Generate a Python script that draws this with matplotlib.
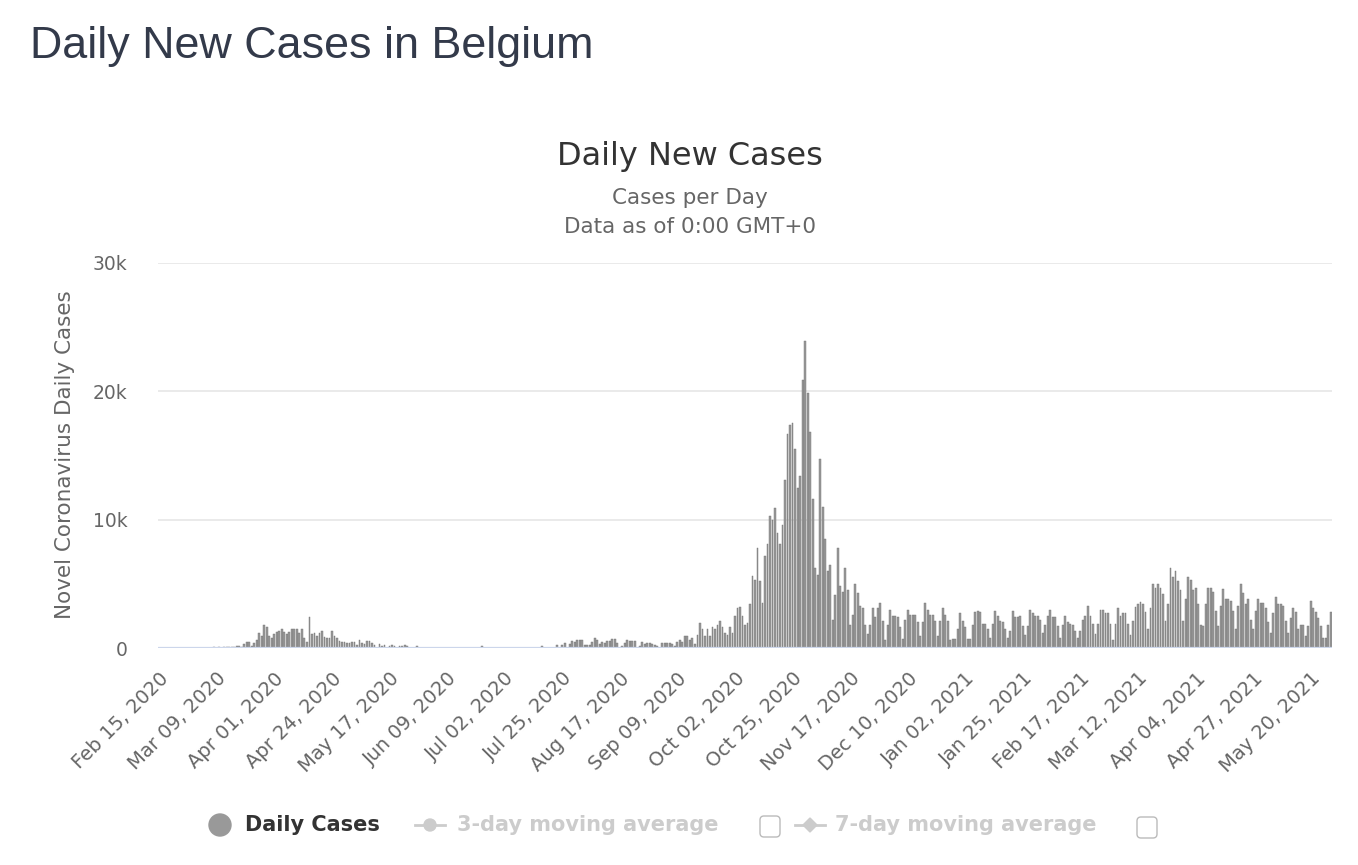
import numpy as np
import pandas as pd
import matplotlib
matplotlib.use("Agg")
import matplotlib.pyplot as plt
from matplotlib.patches import Circle, FancyBboxPatch, Polygon
from matplotlib.lines import Line2D

# daily new cases, one list per month (first day: Feb 15, 2020)
start_date = "2020-02-15"
feb20 = [0, 0, 0, 0, 0, 0, 0, 0, 0, 0, 0, 0, 0, 0, 0]
mar20 = [1, 0, 0, 6, 5, 10, 27, 39, 28, 47, 35, 40, 50, 60, 45, 70,
         150, 150, 90, 300, 470, 470, 180, 360, 620, 1200, 900, 1820, 1670, 900, 750]
apr20 = [1100, 1220, 1350, 1500, 1220, 1100, 1220, 1500, 1500, 1500,
         1150, 1500, 750, 440, 2400, 1100, 1200, 900, 1200, 1350,
         830, 750, 750, 1350, 900, 750, 520, 440, 440, 360]
may20 = [400, 450, 500, 260, 600, 360, 300, 520, 520, 400,
         260, 0, 280, 180, 200, 0, 180, 200, 180, 0,
         180, 190, 200, 180, 0, 0, 0, 150, 0, 0, 0]
jun20 = [0, 0, 0, 0, 0, 0, 0, 0, 0, 0, 0, 0, 0, 0, 0,
         0, 0, 0, 0, 0, 0, 0, 130, 0, 0, 0, 0, 0, 0, 0]
jul20 = [0, 0, 0, 0, 0, 0, 0, 0, 0, 0, 0, 0, 0, 0, 0, 0,
         130, 0, 0, 0, 0, 0, 260, 0, 200, 390, 0, 310, 520, 450, 630]
aug20 = [650, 600, 260, 200, 260, 500, 750, 650, 320, 470,
         420, 520, 570, 730, 700, 400, 0, 150, 400, 650,
         550, 520, 520, 0, 150, 470, 330, 400, 420, 300, 260]
sep20 = [130, 0, 390, 420, 420, 400, 350, 150, 470, 650,
         500, 910, 910, 600, 780, 310, 1040, 1930, 1500, 900,
         1500, 900, 1670, 1500, 1780, 2100, 1670, 1200, 1040, 1670]
oct20 = [1200, 2500, 3100, 3200, 2500, 1800, 1950, 3400, 5600, 5300,
         7800, 5200, 3500, 7200, 8100, 10300, 10000, 10900, 9000, 8100,
         9600, 13100, 16700, 17400, 17500, 15500, 12500, 13400, 20900, 23900, 19900]
nov20 = [16800, 11600, 6200, 5700, 14700, 11000, 8500, 6000, 6500, 2200,
         4100, 7800, 4800, 4400, 6200, 4500, 1800, 2600, 5000, 4300,
         3300, 3100, 1800, 1100, 1800, 3100, 2400, 3100, 3500, 2100]
dec20 = [600, 1800, 3000, 2500, 2500, 2400, 1600, 730, 2200, 3000,
         2600, 2600, 2600, 2000, 900, 2000, 3500, 3000, 2600, 2600,
         2100, 900, 2100, 3100, 2600, 2100, 600, 700, 700, 1500, 2700]
jan21 = [2100, 1600, 700, 700, 1800, 2800, 2900, 2800, 1900, 1900,
         1500, 800, 1900, 2900, 2500, 2100, 2000, 1500, 800, 1350,
         2900, 2400, 2400, 2500, 1700, 1000, 1700, 3000, 2700, 2500, 2500]
feb21 = [2200, 1200, 1800, 2500, 3000, 2400, 2400, 1700, 800, 1800,
         2500, 2000, 1900, 1800, 1350, 800, 1300, 2200, 2500, 3300,
         2500, 1900, 1100, 1900, 3000, 3000, 2700, 2700]
mar21 = [1900, 600, 1900, 3100, 2500, 2700, 2700, 1900, 1000, 2100,
         3200, 3400, 3600, 3400, 2800, 1500, 3100, 5000, 4700, 5000,
         4700, 4200, 2100, 3400, 6200, 5500, 6000, 5200, 4500, 2100, 3800]
apr21 = [5500, 5300, 4500, 4700, 3400, 1800, 1700, 3400, 4700, 4700,
         4400, 2900, 1700, 3300, 4600, 3800, 3800, 3700, 2900, 1500,
         3300, 5000, 4300, 3400, 3800, 2200, 1500, 2900, 3800, 3500]
may21 = [3500, 3100, 2000, 1200, 2700, 4000, 3400, 3400, 3300, 2100,
         1200, 2300, 3100, 2800, 1500, 1800, 1800, 900, 1700, 3700,
         3100, 2800, 2300, 1700, 800, 800, 1800, 2800]

yticks = [0, 10000, 20000, 30000]
ytick_labels = ["0", "10k", "20k", "30k"]

cases = np.array(feb20 + mar20 + apr20 + may20 + jun20 + jul20 + aug20 + sep20
                 + oct20 + nov20 + dec20 + jan21 + feb21 + mar21 + apr21 + may21)
dates = pd.date_range(start_date, periods=len(cases), freq="D")
xpos = np.arange(len(cases))

W, H = 1358, 865
fig = plt.figure(figsize=(W / 100, H / 100), dpi=100)
plt.rcParams["font.family"] = ["DejaVu Sans"]

ax = fig.add_axes([158 / W, 1 - 648 / H, (1332 - 158) / W, (648 - 263) / H])
ax.bar(xpos, cases, width=0.75, color="#9a9a9a", edgecolor="#707070", linewidth=0.3, zorder=3)
ax.set_xlim(-0.5, len(cases) - 0.5)
ax.set_ylim(0, 30000)
ax.set_yticks(yticks)
ax.set_yticklabels(ytick_labels)
ax.yaxis.grid(True, color="#e6e6e6", linewidth=1.2, zorder=0)
ax.set_axisbelow(True)
for s in ax.spines.values():
    s.set_visible(False)
ax.axhline(0, color="#ccd6eb", linewidth=1.6, zorder=4)
ax.tick_params(axis="y", length=0, pad=22, labelsize=13.5, labelcolor="#666666")

tick_idx = xpos[::23]
ax.set_xticks(tick_idx)
ax.set_xticklabels([dates[i].strftime("%b %d, %Y") for i in tick_idx],
                   rotation=45, ha="right", va="top", rotation_mode="anchor")
ax.tick_params(axis="x", length=0, pad=15, labelsize=14, labelcolor="#666666")

# titles
fig.text(30 / W, 1 - 58 / H, "Daily New Cases in Belgium", fontsize=32.3,
         family=["Liberation Sans", "DejaVu Sans"], color="#333a4a", va="baseline")
fig.text(690 / W, 1 - 157 / H, "Daily New Cases", fontsize=23, color="#333333",
         ha="center", va="center")
fig.text(690 / W, 1 - 198 / H, "Cases per Day", fontsize=15.5, color="#666666",
         ha="center", va="center")
fig.text(690 / W, 1 - 227 / H, "Data as of 0:00 GMT+0", fontsize=15.5, color="#666666",
         ha="center", va="center")
fig.text(65 / W, 1 - 455 / H, "Novel Coronavirus Daily Cases", fontsize=15.5,
         color="#666666", rotation=90, ha="center", va="center")

# legend drawn in pixel coordinates
lg = fig.add_axes([0, 0, 1, 1])
lg.set_xlim(0, W)
lg.set_ylim(H, 0)
lg.axis("off")
lg.patch.set_alpha(0)
ly = 825
lg.add_patch(Circle((220, ly), 11, color="#999999"))
lg.text(245, ly, "Daily Cases", fontsize=15, weight="bold", color="#333333", va="center")
lg.add_line(Line2D([415, 445], [ly, ly], color="#cccccc", linewidth=2))
lg.add_patch(Circle((430, ly), 6, color="#cccccc"))
lg.text(457, ly, "3-day moving average", fontsize=15, weight="bold", color="#cccccc", va="center")
lg.add_patch(FancyBboxPatch((760, ly - 9), 20, 21, boxstyle="round,pad=0,rounding_size=4",
                            facecolor="white", edgecolor="#bbbbbb", linewidth=1))
lg.add_line(Line2D([795, 825], [ly, ly], color="#cccccc", linewidth=2))
lg.add_patch(Polygon([[810, ly - 7], [817, ly], [810, ly + 7], [803, ly]], closed=True, color="#cccccc"))
lg.text(835, ly, "7-day moving average", fontsize=15, weight="bold", color="#cccccc", va="center")
lg.add_patch(FancyBboxPatch((1137, ly - 8), 20, 21, boxstyle="round,pad=0,rounding_size=4",
                            facecolor="white", edgecolor="#bbbbbb", linewidth=1))

fig.savefig("out.png", dpi=100)
